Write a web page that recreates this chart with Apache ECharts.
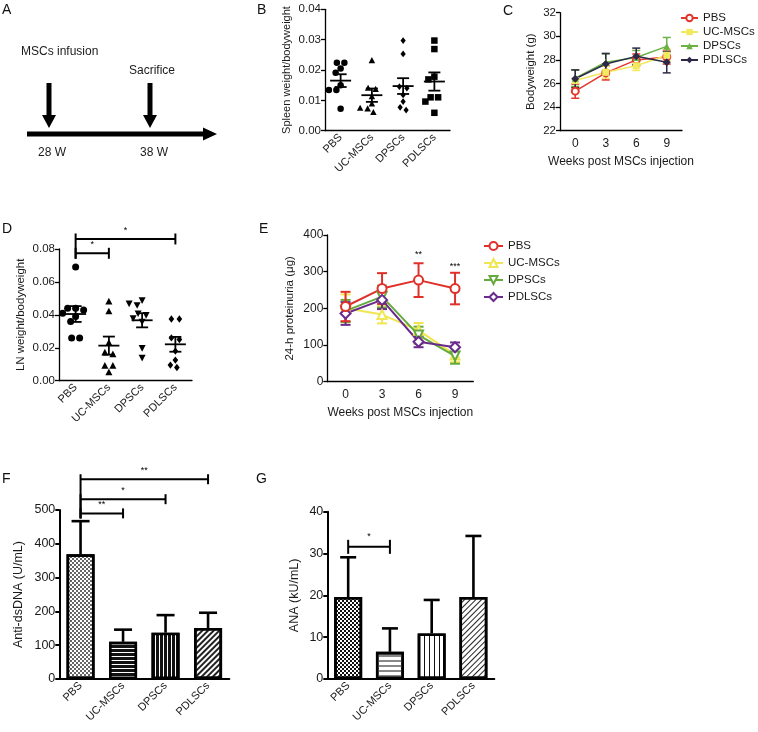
<!DOCTYPE html>
<html><head><meta charset="utf-8">
<script src="https://cdn.jsdelivr.net/npm/echarts@6/dist/echarts.min.js"></script>
<style>html,body{margin:0;padding:0;background:#fff}#c{width:758px;height:732px}</style>
</head><body><div id="c"></div><script>
// ---------- data ----------
const groups = ['PBS', 'UC-MSCs', 'DPSCs', 'PDLSCs'];
const weeks = ['0', '3', '6', '9'];

// B: spleen weight / bodyweight (individual mice)
const spleenPBS = [0.0224, 0.0224, 0.0205, 0.0191, 0.0150, 0.0134, 0.0134, 0.0072];
const spleenUC = [0.0231, 0.0140, 0.0136, 0.0112, 0.0088, 0.0074, 0.0072, 0.0060];
const spleenDPSC = [0.0297, 0.0253, 0.0145, 0.0140, 0.0118, 0.0096, 0.0077, 0.0068];
const spleenPDLSC = [0.0297, 0.0269, 0.0178, 0.0169, 0.0110, 0.0110, 0.0096, 0.0059];
const spleenMean = [0.0165, 0.0117, 0.0147, 0.0162];
const spleenSEM = [0.0021, 0.0022, 0.0026, 0.0030];

// C: bodyweight (g)
const bwPBS = [25.35, 26.9, 28.0, 28.25];
const bwPBSErr = [0.6, 0.6, 0.5, 0.6];
const bwUC = [26.25, 26.95, 27.5, 28.4];
const bwUCErr = [0.9, 0.5, 0.4, 0.5];
const bwDPSC = [26.45, 27.8, 28.2, 29.15];
const bwDPSCErr = [0.7, 0.7, 0.6, 0.75];
const bwPDLSC = [26.4, 27.65, 28.3, 27.8];
const bwPDLSCErr = [0.75, 0.9, 0.7, 0.9];

// D: LN weight / bodyweight
const lnPBS = [0.069, 0.044, 0.044, 0.043, 0.041, 0.039, 0.036, 0.026, 0.026];
const lnUC = [0.048, 0.042, 0.023, 0.017, 0.016, 0.009, 0.009, 0.005];
const lnDPSC = [0.049, 0.047, 0.046, 0.041, 0.040, 0.038, 0.036, 0.020, 0.014];
const lnPDLSC = [0.0375, 0.0375, 0.026, 0.025, 0.018, 0.0125, 0.0095, 0.008];
const lnMean = [0.0405, 0.0213, 0.0367, 0.0221];
const lnSEM = [0.0048, 0.0055, 0.0043, 0.0045];
const lnSig = [[0, 1, 0.0774, '*'], [0, 3, 0.0861, '*']];

// E: 24-h proteinuria (µg)
const protPBS = [205, 254, 277, 254];
const protPBSErr = [40, 42, 46, 43];
const protUC = [200, 183, 140, 73];
const protUCErr = [38, 24, 20, 20];
const protDPSC = [193, 232, 127, 70];
const protDPSCErr = [30, 30, 23, 21];
const protPDLSC = [186, 223, 109, 94];
const protPDLSCErr = [31, 25, 15, 13];
const protStars = [[2, 347, '**'], [3, 314, '***']];

// F: anti-dsDNA (U/mL)
const dsdnaMean = [369, 110, 137, 151];
const dsdnaErr = [98, 36, 52, 45];
const dsdnaSig = [[0, 1, 490, '**'], [0, 2, 532, '*'], [0, 3, 591, '**']];

// G: ANA (kU/mL)
const anaMean = [19.6, 6.5, 10.9, 19.6];
const anaErr = [9.5, 5.6, 8.0, 14.6];
const anaSig = [[0, 1, 31.6, '*']];

// ---------- helpers ----------
const FONT = '"Liberation Sans", Arial, Helvetica, sans-serif';
const TXT = '#1a1a1a';

function marker(kind, x, y, s) {
  const r = s / 2;
  const st = { fill: '#000' };
  if (kind === 'circle') return { type: 'circle', shape: { cx: x, cy: y, r: r }, style: st };
  if (kind === 'square') return { type: 'rect', shape: { x: x - r, y: y - r, width: s, height: s }, style: st };
  if (kind === 'triangle') return { type: 'polygon', shape: { points: [[x, y - r * 1.1], [x + r, y + r * 0.8], [x - r, y + r * 0.8]] }, style: st };
  if (kind === 'triangleDown') return { type: 'polygon', shape: { points: [[x, y + r * 1.1], [x + r, y - r * 0.8], [x - r, y - r * 0.8]] }, style: st };
  return { type: 'polygon', shape: { points: [[x, y - r * 1.05], [x + r * 0.8, y], [x, y + r * 1.05], [x - r * 0.8, y]] }, style: st };
}

function dotSeries(gi, sets, means, sems, shapes, size, spacing) {
  return {
    type: 'custom', xAxisIndex: gi, yAxisIndex: gi, clip: false, silent: true, z: 4,
    data: means.map((m, i) => [i, m, sems[i]]),
    encode: { x: 0, y: 1 },
    renderItem(params, api) {
      const i = params.dataIndex;
      const cx = api.coord([i, 0])[0];
      const ys = sets[i].map(v => api.coord([i, v])[1]);
      const order = ys.map((_, k) => k).sort((a, b) => ys[a] - ys[b]);
      const units = [];
      order.forEach(k => {
        const u = units[units.length - 1];
        if (u && Math.abs(ys[k] - ys[u[0]]) < 2) u.push(k); else units.push([k]);
      });
      const placed = [];
      const children = [];
      const minD = spacing * 0.86;
      units.forEach(u => {
        const base = u.map((k, j) => (j - (u.length - 1) / 2) * spacing);
        for (let t = 0; t < 80; t++) {
          const sh = t === 0 ? 0 : (t % 2 ? -1 : 1) * Math.ceil(t / 2) * 0.5;
          const ok = u.every((k, j) => placed.every(p => Math.hypot(p[0] - (base[j] + sh), p[1] - ys[k]) >= minD));
          if (ok || t === 79) {
            u.forEach((k, j) => { placed.push([base[j] + sh, ys[k]]); children.push(marker(shapes[i], cx + base[j] + sh, ys[k], size)); });
            break;
          }
        }
      });
      const m = api.value(1), s = api.value(2);
      const ym = api.coord([i, m])[1], yt = api.coord([i, m + s])[1], yb = api.coord([i, m - s])[1];
      const st = { stroke: '#000', lineWidth: 1.8 };
      children.push({ type: 'line', shape: { x1: cx - 10.5, y1: ym, x2: cx + 10.5, y2: ym }, style: st });
      children.push({ type: 'line', shape: { x1: cx, y1: yt, x2: cx, y2: yb }, style: st });
      children.push({ type: 'line', shape: { x1: cx - 6, y1: yt, x2: cx + 6, y2: yt }, style: st });
      children.push({ type: 'line', shape: { x1: cx - 6, y1: yb, x2: cx + 6, y2: yb }, style: st });
      return { type: 'group', children };
    }
  };
}

function errSeries(gi, vals, errs, color, capW, lw, z) {
  return {
    type: 'custom', xAxisIndex: gi, yAxisIndex: gi, silent: true, z: z, clip: false,
    data: vals.map((v, i) => [i, v, errs[i]]),
    encode: { x: 0, y: 1 },
    renderItem(params, api) {
      const x = api.value(0), v = api.value(1), e = api.value(2);
      const t = api.coord([x, v + e]), b = api.coord([x, v - e]);
      const st = { stroke: color, lineWidth: lw };
      return { type: 'group', children: [
        { type: 'line', shape: { x1: t[0], y1: t[1], x2: b[0], y2: b[1] }, style: st },
        { type: 'line', shape: { x1: t[0] - capW, y1: t[1], x2: t[0] + capW, y2: t[1] }, style: st },
        { type: 'line', shape: { x1: b[0] - capW, y1: b[1], x2: b[0] + capW, y2: b[1] }, style: st }
      ] };
    }
  };
}

function barErrSeries(gi, vals, errs, capW) {
  return {
    type: 'custom', xAxisIndex: gi, yAxisIndex: gi, silent: true, z: 1, clip: false,
    data: vals.map((v, i) => [i, v, errs[i]]),
    encode: { x: 0, y: 1 },
    renderItem(params, api) {
      const x = api.value(0), v = api.value(1), e = api.value(2);
      const t = api.coord([x, v + e]), b = api.coord([x, v]);
      const st = { stroke: '#000', lineWidth: 2.6 };
      return { type: 'group', children: [
        { type: 'line', shape: { x1: t[0], y1: t[1], x2: b[0], y2: b[1] }, style: st },
        { type: 'line', shape: { x1: t[0] - capW, y1: t[1], x2: t[0] + capW, y2: t[1] }, style: st }
      ] };
    }
  };
}

function bracketSeries(gi, sig, tickH, lw, gap) {
  const lowest = Math.min.apply(null, sig.map(s => s[2]));
  return {
    type: 'custom', xAxisIndex: gi, yAxisIndex: gi, clip: false, silent: true, z: 5,
    data: sig.map(s => [s[0], s[1], s[2]]),
    encode: { x: [0, 1], y: 2 },
    renderItem(params, api) {
      const a = api.coord([api.value(0), api.value(2)]);
      const b = api.coord([api.value(1), api.value(2)]);
      const low = api.coord([api.value(0), lowest])[1];
      const st = { stroke: '#000', lineWidth: lw };
      return { type: 'group', children: [
        { type: 'line', shape: { x1: a[0], y1: a[1], x2: b[0], y2: b[1] }, style: st },
        { type: 'line', shape: { x1: a[0], y1: a[1] - tickH, x2: a[0], y2: low + tickH }, style: st },
        { type: 'line', shape: { x1: b[0], y1: b[1] - tickH, x2: b[0], y2: b[1] + tickH }, style: st },
        { type: 'text', x: (a[0] + b[0]) / 2, y: a[1] - gap, style: { text: sig[params.dataIndex][3], fill: '#000', font: '9px ' + FONT, align: 'center', verticalAlign: 'bottom' } }
      ] };
    }
  };
}

function starSeries(gi, stars) {
  return {
    type: 'custom', xAxisIndex: gi, yAxisIndex: gi, clip: false, silent: true, z: 5,
    data: stars.map(s => [s[0], s[1]]),
    encode: { x: 0, y: 1 },
    renderItem(params, api) {
      const p = api.coord([api.value(0), api.value(1)]);
      return { type: 'text', x: p[0], y: p[1], style: { text: stars[params.dataIndex][2], fill: '#000', font: '9px ' + FONT, align: 'center', verticalAlign: 'middle' } };
    }
  };
}

function catAxis(gi, data, rotate, lw, fs) {
  return {
    type: 'category', gridIndex: gi, data: data,
    axisLine: { lineStyle: { color: '#000', width: lw || 1.3 } },
    axisTick: { alignWithLabel: true, length: 4, lineStyle: { color: '#000', width: lw || 1.3 } },
    axisLabel: { rotate: rotate, fontSize: fs || (rotate ? 11 : 12), color: TXT, fontFamily: FONT, margin: rotate ? 5 : 7, interval: 0 },
    splitLine: { show: false }
  };
}
function valAxis(gi, min, max, interval, name, gap, fmt, lw, fs, nfs) {
  return {
    type: 'value', gridIndex: gi, min: min, max: max, interval: interval,
    name: name, nameLocation: 'middle', nameGap: gap,
    nameTextStyle: { fontSize: nfs || 11.5, color: TXT, fontFamily: FONT },
    axisLine: { show: true, lineStyle: { color: '#000', width: lw || 1.3 } },
    axisTick: { show: true, length: 4, lineStyle: { color: '#000', width: lw || 1.3 } },
    axisLabel: { fontSize: fs || 11.5, color: TXT, fontFamily: FONT, margin: 4, formatter: fmt },
    splitLine: { show: false }
  };
}

const cCol = { PBS: '#e4352b', UC: '#f3e95e', DPSC: '#6ab244', PDLSC: '#2c2847' };
const eCol = { PBS: '#e0302a', UC: '#efe651', DPSC: '#64aa3c', PDLSC: '#6a2b8e' };

function decal(o) { return Object.assign({ symbol: 'rect', symbolSize: 1 }, o); }
const checker = { dashArrayX: [[2, 2], [0, 2, 2, 0]], dashArrayY: [2, 0] };
const fStyles = [
  { color: '#fff', decal: decal(Object.assign({ color: '#666' }, checker)) },
  { color: '#111', decal: decal({ color: '#fff', dashArrayX: [1, 0], dashArrayY: [1, 3], rotation: 0 }) },
  { color: '#111', decal: decal({ color: '#fff', dashArrayX: [1, 0], dashArrayY: [1, 2.5], rotation: Math.PI / 2 }) },
  { color: '#fff', decal: decal({ color: '#222', dashArrayX: [1, 0], dashArrayY: [1.5, 1.5], rotation: -Math.PI / 4 }) }
];
const gStyles = [
  { color: '#fff', decal: decal(Object.assign({ color: '#111' }, checker)) },
  { color: '#fff', decal: decal({ color: '#888', dashArrayX: [1, 0], dashArrayY: [1.5, 3], rotation: 0 }) },
  { color: '#fff', decal: decal({ color: '#111', dashArrayX: [1, 0], dashArrayY: [1, 3.5], rotation: Math.PI / 2 }) },
  { color: '#fff', decal: decal({ color: '#222', dashArrayX: [1, 0], dashArrayY: [1, 2.5], rotation: -Math.PI / 4 }) }
];

const f2 = v => v.toFixed(2);

function letter(t, x, y) {
  return { type: 'text', left: x, top: y, style: { text: t, font: '14px ' + FONT, fill: '#111' } };
}
function atext(t, x, y) {
  return { type: 'text', left: x, top: y, style: { text: t, font: '12px ' + FONT, fill: TXT } };
}

const weeksName = { name: 'Weeks post MSCs injection', nameLocation: 'middle', nameGap: 25, nameTextStyle: { fontSize: 12, color: TXT, fontFamily: FONT } };

const option = {
  animation: false,
  backgroundColor: '#fff',
  textStyle: { fontFamily: FONT },
  grid: [
    { left: 325, top: 9.3, width: 125, height: 121.4, outerBoundsMode: 'none' },
    { left: 560, top: 12.7, width: 122, height: 118, outerBoundsMode: 'none' },
    { left: 59, top: 249, width: 133, height: 131.7, outerBoundsMode: 'none' },
    { left: 327.3, top: 235, width: 146, height: 146.7, outerBoundsMode: 'none' },
    { left: 59.3, top: 510, width: 170, height: 169, outerBoundsMode: 'none' },
    { left: 327.3, top: 511.7, width: 167, height: 167.3, outerBoundsMode: 'none' }
  ],
  xAxis: [
    catAxis(0, groups, 45),
    Object.assign(catAxis(1, weeks, 0), weeksName),
    catAxis(2, groups, 45),
    Object.assign(catAxis(3, weeks, 0), weeksName),
    catAxis(4, groups, 45, 2),
    catAxis(5, groups, 45, 2)
  ],
  yAxis: [
    valAxis(0, 0, 0.04, 0.01, 'Spleen weight/bodyweight', 33, f2, null, 11.5, 11),
    valAxis(1, 22, 32, 2, 'Bodyweight (g)', 23),
    valAxis(2, 0, 0.08, 0.02, 'LN weight/bodyweight', 32, f2),
    valAxis(3, 0, 400, 100, '24-h proteinuria (μg)', 31, null, null, 12),
    valAxis(4, 0, 500, 100, 'Anti-dsDNA (U/mL)', 34, null, 2, 12.5, 12.5),
    valAxis(5, 0, 40, 10, 'ANA (kU/mL)', 26, null, 2, 12.5, 12.5)
  ],
  legend: [
    {
      data: ['PBS', 'UC-MSCs', 'DPSCs', 'PDLSCs'], orient: 'vertical', left: 680, top: 12, padding: 0,
      itemWidth: 17, itemHeight: 8, itemGap: 2, selectedMode: false,
      textStyle: { fontSize: 11.5, color: TXT, fontFamily: FONT, lineHeight: 12 }
    },
    {
      data: ['PBS ', 'UC-MSCs ', 'DPSCs ', 'PDLSCs '], orient: 'vertical', left: 483, top: 240, padding: 0,
      itemWidth: 19, itemHeight: 10, itemGap: 5, selectedMode: false,
      textStyle: { fontSize: 11.5, color: TXT, fontFamily: FONT, lineHeight: 12 }
    }
  ],
  graphic: [
    letter('A', 2, 3), letter('B', 257, 3), letter('C', 503, 4), letter('D', 2, 222),
    letter('E', 259, 222), letter('F', 2, 472), letter('G', 256, 472),
    atext('MSCs infusion', 21, 46), atext('Sacrifice', 129, 65), atext('28 W', 38, 147), atext('38 W', 140, 147),
    { type: 'rect', shape: { x: 46.5, y: 83, width: 5, height: 34 }, style: { fill: '#000' } },
    { type: 'polygon', shape: { points: [[42, 115], [56, 115], [49, 128]] }, style: { fill: '#000' } },
    { type: 'rect', shape: { x: 147.5, y: 83, width: 5, height: 34 }, style: { fill: '#000' } },
    { type: 'polygon', shape: { points: [[143, 115], [157, 115], [150, 128]] }, style: { fill: '#000' } },
    { type: 'rect', shape: { x: 27, y: 131.5, width: 178, height: 5 }, style: { fill: '#000' } },
    { type: 'polygon', shape: { points: [[203, 127.5], [203, 140.5], [217, 134]] }, style: { fill: '#000' } }
  ],
  series: [
    // B
    dotSeries(0, [spleenPBS, spleenUC, spleenDPSC, spleenPDLSC], spleenMean, spleenSEM, ['circle', 'triangle', 'diamond', 'square'], 6.5, 7.5),
    // C
    errSeries(1, bwPBS, bwPBSErr, cCol.PBS, 4, 1.5, 2),
    errSeries(1, bwUC, bwUCErr, cCol.UC, 4, 1.5, 2),
    errSeries(1, bwDPSC, bwDPSCErr, cCol.DPSC, 4, 1.5, 2),
    errSeries(1, bwPDLSC, bwPDLSCErr, cCol.PDLSC, 4, 1.5, 2),
    { name: 'PBS', type: 'line', xAxisIndex: 1, yAxisIndex: 1, data: bwPBS, symbol: 'emptyCircle', symbolSize: 7, z: 3,
      lineStyle: { color: cCol.PBS, width: 1.5 }, itemStyle: { color: cCol.PBS, borderWidth: 1.5 } },
    { name: 'UC-MSCs', type: 'line', xAxisIndex: 1, yAxisIndex: 1, data: bwUC, symbol: 'rect', symbolSize: 7, z: 3,
      lineStyle: { color: cCol.UC, width: 1.5 }, itemStyle: { color: cCol.UC } },
    { name: 'DPSCs', type: 'line', xAxisIndex: 1, yAxisIndex: 1, data: bwDPSC, symbol: 'triangle', symbolSize: 7, z: 3,
      lineStyle: { color: cCol.DPSC, width: 1.5 }, itemStyle: { color: cCol.DPSC } },
    { name: 'PDLSCs', type: 'line', xAxisIndex: 1, yAxisIndex: 1, data: bwPDLSC, symbol: 'diamond', symbolSize: 8, z: 3,
      lineStyle: { color: cCol.PDLSC, width: 1.5 }, itemStyle: { color: cCol.PDLSC } },
    // D
    dotSeries(2, [lnPBS, lnUC, lnDPSC, lnPDLSC], lnMean, lnSEM, ['circle', 'triangle', 'triangleDown', 'diamond'], 7, 8),
    bracketSeries(2, lnSig, 5.5, 2, 4),
    // E
    errSeries(3, protUC, protUCErr, eCol.UC, 5, 2, 2),
    errSeries(3, protDPSC, protDPSCErr, eCol.DPSC, 5, 2, 2),
    errSeries(3, protPDLSC, protPDLSCErr, eCol.PDLSC, 5, 2, 2),
    errSeries(3, protPBS, protPBSErr, eCol.PBS, 5, 2, 2),
    { name: 'UC-MSCs ', type: 'line', xAxisIndex: 3, yAxisIndex: 3, data: protUC, symbol: 'emptyTriangle', symbolSize: 9, z: 3,
      lineStyle: { color: eCol.UC, width: 2 }, itemStyle: { color: eCol.UC, borderWidth: 2 } },
    { name: 'DPSCs ', type: 'line', xAxisIndex: 3, yAxisIndex: 3, data: protDPSC, symbol: 'emptyTriangle', symbolRotate: 180, symbolSize: 9, z: 3,
      lineStyle: { color: eCol.DPSC, width: 2 }, itemStyle: { color: eCol.DPSC, borderWidth: 2 } },
    { name: 'PDLSCs ', type: 'line', xAxisIndex: 3, yAxisIndex: 3, data: protPDLSC, symbol: 'emptyDiamond', symbolSize: 10, z: 3,
      lineStyle: { color: eCol.PDLSC, width: 2 }, itemStyle: { color: eCol.PDLSC, borderWidth: 2.5 } },
    { name: 'PBS ', type: 'line', xAxisIndex: 3, yAxisIndex: 3, data: protPBS, symbol: 'emptyCircle', symbolSize: 9, z: 3,
      lineStyle: { color: eCol.PBS, width: 2 }, itemStyle: { color: eCol.PBS, borderWidth: 2 } },
    starSeries(3, protStars),
    // F
    { type: 'bar', xAxisIndex: 4, yAxisIndex: 4, barWidth: '66%', z: 2,
      data: dsdnaMean.map((v, i) => ({ value: v, itemStyle: fStyles[i] })),
      itemStyle: { borderColor: '#000', borderWidth: 2.6 } },
    barErrSeries(4, dsdnaMean, dsdnaErr, 9),
    bracketSeries(4, dsdnaSig, 5, 2, 4),
    // G
    { type: 'bar', xAxisIndex: 5, yAxisIndex: 5, barWidth: '67%', z: 2,
      data: anaMean.map((v, i) => ({ value: v, itemStyle: gStyles[i] })),
      itemStyle: { borderColor: '#000', borderWidth: 2.6 } },
    barErrSeries(5, anaMean, anaErr, 8),
    bracketSeries(5, anaSig, 7, 2, 6)
  ]
};

const chart = echarts.init(document.getElementById('c'), null, { renderer: 'canvas', width: 758, height: 732 });
chart.setOption(option);
</script></body></html>
